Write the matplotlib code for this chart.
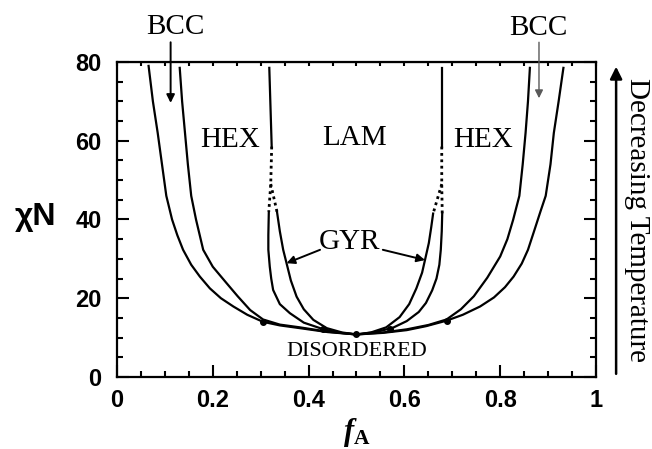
import numpy as np
import matplotlib.pyplot as plt
from matplotlib.ticker import MultipleLocator, FuncFormatter

plt.rcParams['mathtext.fontset'] = 'custom'
plt.rcParams['mathtext.it'] = 'Liberation Serif:italic:bold'
plt.rcParams['mathtext.rm'] = 'Liberation Serif:bold'

# phase boundaries (f_A, chiN)
# order-disorder boundary
odt_left_f = [0.066, 0.075, 0.085, 0.094, 0.103, 0.115, 0.126, 0.138, 0.155, 0.173, 0.194,
              0.217, 0.243, 0.272, 0.305, 0.34, 0.382, 0.44, 0.5]
odt_left_n = [79, 70, 62, 54, 46, 40, 36, 32.3, 28.5, 25.5, 22.5,
              20, 17.9, 15.8, 14.0, 13.1, 12.4, 11.4, 10.8]
odt_right_f = [0.5, 0.555, 0.605, 0.645, 0.688, 0.722, 0.758, 0.787, 0.81, 0.828, 0.845,
               0.858, 0.872, 0.884, 0.895, 0.905, 0.912, 0.922, 0.932]
odt_right_n = [10.8, 11.2, 11.9, 12.9, 14.3, 15.8, 17.9, 20.2, 22.8, 25.5, 28.8,
               32.3, 37.5, 42, 46, 54, 62, 70, 78.5]

# BCC / HEX boundary
bh_left_f = [0.131, 0.136, 0.142, 0.148, 0.155, 0.165, 0.18, 0.2, 0.229, 0.252, 0.278,
             0.305, 0.34, 0.382, 0.44, 0.5]
bh_left_n = [78.5, 70, 62, 54, 46, 40, 32.3, 28, 23.8, 20.5, 17,
             14.6, 13.3, 12.6, 11.5, 10.8]
bh_right_f = [0.5, 0.555, 0.605, 0.65, 0.688, 0.718, 0.745, 0.773, 0.8, 0.815, 0.827,
              0.84, 0.847, 0.853, 0.858, 0.862]
bh_right_n = [10.8, 11.3, 12.1, 13.2, 14.6, 17.2, 20.5, 25.2, 30.6, 35, 39.9,
              46, 54, 62, 70, 78.5]

# HEX / LAM (solid, upper part)
hl_left_f = [0.318, 0.323]
hl_left_n = [78.5, 58.5]
hl_right_f = [0.678, 0.678]
hl_right_n = [78.5, 58.5]

# dotted extrapolations
dot_hg_left_f = [0.323, 0.321, 0.317]
dot_hg_left_n = [58.5, 49, 42]
dot_gl_left_f = [0.321, 0.334]
dot_gl_left_n = [49, 42]
dot_hg_right_f = [0.678, 0.678, 0.679]
dot_hg_right_n = [58.5, 49, 41.5]
dot_gl_right_f = [0.678, 0.66]
dot_gl_right_n = [49, 41.5]

# HEX / GYR
hg_left_f = [0.317, 0.316, 0.316, 0.319, 0.322, 0.326, 0.34, 0.361, 0.39, 0.424, 0.46, 0.5]
hg_left_n = [42, 36, 32.3, 28, 25, 22.1, 18.5, 16.2, 13.8, 12.4, 11.3, 10.8]
hg_right_f = [0.5, 0.54, 0.576, 0.605, 0.63, 0.645, 0.658, 0.667, 0.673, 0.676, 0.678, 0.679]
hg_right_n = [10.8, 11.4, 12.5, 14.2, 16.5, 18.8, 22, 25, 28.5, 32.3, 37, 41.5]

# GYR / LAM
gl_left_f = [0.334, 0.34, 0.347, 0.354, 0.363, 0.375, 0.39, 0.41, 0.438, 0.47, 0.5]
gl_left_n = [42, 37, 32.3, 28.9, 24.5, 20.4, 17.2, 14.5, 12.4, 11.3, 10.8]
gl_right_f = [0.5, 0.53, 0.562, 0.59, 0.61, 0.625, 0.637, 0.643, 0.651, 0.656, 0.66]
gl_right_n = [10.8, 11.3, 12.6, 15.2, 18.5, 22.5, 26.5, 29.7, 34, 38, 41.5]

# junction dots
dot_f = [0.305, 0.43, 0.5, 0.57, 0.688]
dot_n = [14.0, 12.2, 10.8, 12.2, 14.3]

fig = plt.figure(figsize=(6.52, 4.49), dpi=100)
ax = fig.add_axes([0.1794, 0.1604, 0.7347, 0.7016])

lw = 1.6
for xs, ys in [(odt_left_f, odt_left_n), (odt_right_f, odt_right_n),
               (bh_left_f, bh_left_n), (bh_right_f, bh_right_n),
               (hl_left_f, hl_left_n), (hl_right_f, hl_right_n),
               (hg_left_f, hg_left_n), (hg_right_f, hg_right_n),
               (gl_left_f, gl_left_n), (gl_right_f, gl_right_n)]:
    ax.plot(xs, ys, color='k', lw=lw, solid_joinstyle='round')

for xs, ys in [(dot_hg_left_f, dot_hg_left_n), (dot_gl_left_f, dot_gl_left_n),
               (dot_hg_right_f, dot_hg_right_n), (dot_gl_right_f, dot_gl_right_n)]:
    ax.plot(xs, ys, color='k', lw=2, linestyle=(0, (1, 1.3)))

ax.plot(dot_f, dot_n, 'o', color='k', ms=4)

ax.set_xlim(0, 1)
ax.set_ylim(0, 80)
ax.xaxis.set_major_locator(MultipleLocator(0.2))
ax.xaxis.set_minor_locator(MultipleLocator(0.05))
ax.yaxis.set_major_locator(MultipleLocator(20))
ax.yaxis.set_minor_locator(MultipleLocator(5))
ax.xaxis.set_major_formatter(FuncFormatter(lambda v, p: '%g' % round(v, 2)))
ax.tick_params(axis='both', which='both', direction='in', width=1.5)
ax.tick_params(axis='y', which='both', right=True)
ax.tick_params(which='major', length=8.6)
ax.tick_params(which='minor', length=4.3)
ax.tick_params(axis='x', which='major', pad=9)
ax.tick_params(axis='y', which='major', pad=11)
for lab in ax.get_xticklabels() + ax.get_yticklabels():
    lab.set_family('Liberation Sans')
    lab.set_weight('bold')
    lab.set_fontsize(17)
for sp in ax.spines.values():
    sp.set_linewidth(1.6)

top = ax.secondary_xaxis('top')
top.xaxis.set_major_locator(MultipleLocator(0.05))
top.tick_params(direction='in', length=3, width=1.5, labeltop=False)

serif = 'Liberation Serif'
ax.text(0.236, 60.2, 'HEX', family=serif, fontsize=21, ha='center', va='center')
ax.text(0.495, 60.7, 'LAM', family=serif, fontsize=21, ha='center', va='center')
ax.text(0.764, 60.2, 'HEX', family=serif, fontsize=21, ha='center', va='center')
ax.text(0.486, 34.4, 'GYR', family=serif, fontsize=21, ha='center', va='center')
ax.text(0.5, 6.4, 'DISORDERED', family=serif, fontsize=16, ha='center', va='center')
ax.text(0.121, 88.9, 'BCC', family=serif, fontsize=21, ha='center', va='center', clip_on=False)
ax.text(0.88, 88.5, 'BCC', family=serif, fontsize=21, ha='center', va='center', clip_on=False)

arw = dict(arrowstyle='-|>', color='k', lw=1.4, mutation_scale=12, shrinkA=0, shrinkB=0)
ax.annotate('', xy=(0.112, 69.6), xytext=(0.112, 85), arrowprops=arw, annotation_clip=False)
ax.annotate('', xy=(0.881, 70.8), xytext=(0.881, 85),
            arrowprops=dict(arw, color='0.35', lw=1.0), annotation_clip=False)
ax.annotate('', xy=(0.354, 28.9), xytext=(0.424, 32.3), arrowprops=arw)
ax.annotate('', xy=(0.643, 29.7), xytext=(0.555, 32.3), arrowprops=arw)

# decreasing temperature arrow on the right
ax.annotate('', xy=(1.042, 78.8), xytext=(1.042, 0.8), annotation_clip=False,
            arrowprops=dict(arrowstyle='-|>', color='k', lw=1.8, mutation_scale=18,
                            shrinkA=0, shrinkB=0))
ax.text(1.086, 39.9, 'Decreasing Temperature', family=serif, fontsize=21,
        rotation=-90, ha='center', va='center', clip_on=False)

ax.text(-0.171, 40.6, 'χN', family='Liberation Sans', weight='bold', fontsize=23,
        ha='center', va='center', clip_on=False)
ax.text(0.5, -14.0, r'$f_\mathrm{A}$', fontsize=22, ha='center', va='center', clip_on=False)

fig.savefig('out.png', dpi=100)
